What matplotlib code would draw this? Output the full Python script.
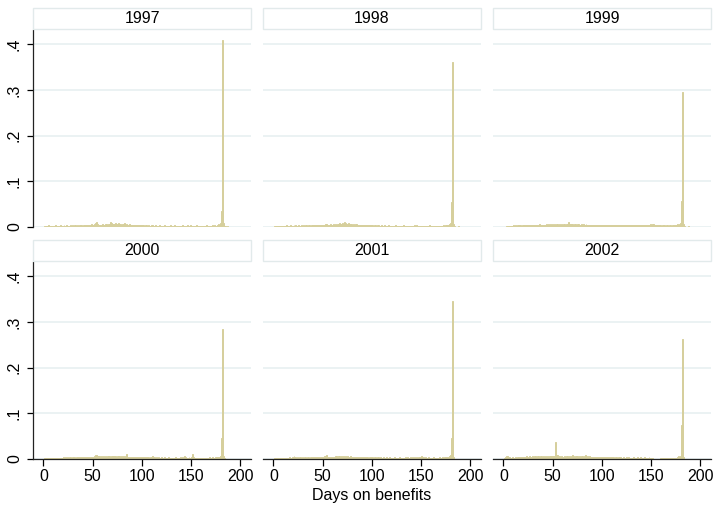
import numpy as np
import matplotlib
matplotlib.use("Agg")
import matplotlib.pyplot as plt
from matplotlib.patches import Rectangle

matplotlib.rcParams['font.family'] = ['Liberation Sans', 'DejaVu Sans']
matplotlib.rcParams['font.size'] = 11

# share of spells by days on benefits (in thousandths), days 1..190
years = ["1997", "1998", "1999", "2000", "2001", "2002"]
days = np.arange(1, 191)

y1997 = [2, 3, 3, 2, 4, 3, 3, 2, 3, 3,
         3, 4, 3, 3, 2, 3, 4, 3, 3, 3,
         4, 3, 3, 4, 3, 3, 3, 4, 3, 4,
         3, 4, 4, 3, 4, 3, 5, 4, 4, 3,
         4, 4, 5, 4, 4, 5, 4, 5, 6, 5,
         5, 6, 8, 10, 6, 5, 5, 4, 5, 6,
         5, 5, 6, 7, 5, 6, 7, 12, 8, 7,
         6, 7, 9, 6, 7, 8, 6, 6, 5, 6,
         6, 8, 5, 5, 6, 5, 5, 6, 4, 5,
         5, 4, 5, 4, 4, 5, 4, 4, 4, 5,
         4, 4, 3, 4, 4, 3, 4, 3, 3, 4,
         4, 3, 3, 4, 3, 3, 3, 4, 3, 3,
         3, 3, 4, 3, 3, 3, 3, 3, 4, 3,
         3, 3, 5, 3, 3, 3, 3, 3, 3, 3,
         4, 3, 3, 3, 3, 5, 3, 3, 3, 4,
         3, 3, 3, 3, 3, 4, 3, 3, 3, 3,
         3, 3, 3, 3, 3, 4, 3, 3, 3, 3,
         3, 4, 3, 4, 3, 3, 5, 6, 4, 8,
         35, 410, 8, 3, 2, 1, 2, 1, 1, 0]

y1998 = [2, 3, 2, 3, 3, 3, 2, 3, 3, 3,
         3, 3, 4, 3, 3, 3, 4, 3, 3, 3,
         4, 3, 5, 3, 3, 4, 3, 3, 4, 3,
         4, 3, 4, 4, 3, 4, 4, 3, 4, 4,
         4, 4, 5, 4, 4, 5, 4, 4, 5, 4,
         5, 4, 7, 6, 5, 5, 4, 6, 5, 5,
         6, 5, 7, 5, 6, 6, 8, 6, 7, 8,
         7, 10, 9, 6, 7, 8, 6, 6, 7, 5,
         6, 5, 6, 5, 6, 5, 5, 4, 5, 5,
         4, 4, 5, 4, 4, 4, 4, 4, 4, 4,
         4, 3, 4, 4, 3, 4, 4, 3, 3, 4,
         3, 3, 4, 3, 3, 3, 4, 3, 3, 3,
         3, 3, 3, 4, 3, 3, 3, 3, 3, 3,
         3, 4, 3, 3, 3, 3, 3, 3, 3, 3,
         3, 3, 4, 3, 5, 3, 3, 3, 3, 3,
         3, 3, 3, 3, 3, 3, 3, 3, 4, 3,
         3, 3, 3, 3, 3, 3, 3, 3, 3, 3,
         3, 3, 4, 3, 4, 4, 5, 4, 6, 8,
         55, 360, 6, 2, 1, 1, 1, 2, 1, 0]

y1999 = [0, 0, 2, 3, 3, 3, 2, 3, 3, 4,
         3, 4, 3, 4, 5, 4, 4, 3, 4, 4,
         5, 4, 4, 5, 4, 4, 5, 4, 4, 4,
         5, 4, 4, 5, 4, 4, 6, 5, 4, 5,
         5, 4, 5, 6, 5, 7, 5, 6, 5, 6,
         5, 6, 5, 6, 7, 5, 6, 5, 6, 5,
         6, 7, 5, 6, 7, 10, 7, 6, 6, 7,
         5, 6, 7, 5, 6, 6, 5, 5, 6, 5,
         6, 5, 5, 6, 4, 5, 5, 4, 5, 5,
         4, 5, 4, 5, 4, 4, 5, 4, 4, 5,
         4, 4, 4, 5, 4, 4, 4, 5, 4, 4,
         4, 4, 4, 4, 5, 4, 4, 4, 4, 4,
         4, 4, 4, 4, 4, 4, 4, 5, 4, 4,
         4, 4, 4, 4, 4, 4, 5, 4, 4, 4,
         4, 4, 5, 4, 4, 4, 4, 5, 5, 6,
         5, 7, 6, 4, 4, 5, 4, 4, 4, 4,
         3, 4, 4, 4, 3, 4, 4, 3, 4, 4,
         3, 4, 4, 4, 4, 5, 6, 4, 6, 9,
         57, 295, 6, 2, 1, 1, 0, 2, 0, 0]

y2000 = [2, 3, 2, 2, 3, 3, 2, 3, 3, 2,
         3, 3, 3, 2, 3, 3, 3, 3, 3, 4,
         3, 3, 4, 3, 4, 3, 4, 4, 3, 4,
         4, 4, 3, 4, 4, 5, 4, 4, 4, 4,
         4, 5, 4, 4, 5, 4, 5, 4, 5, 5,
         5, 6, 8, 9, 7, 6, 6, 5, 6, 5,
         6, 5, 6, 5, 6, 7, 6, 5, 6, 7,
         6, 7, 6, 5, 6, 7, 6, 5, 6, 5,
         6, 5, 7, 6, 10, 5, 5, 4, 5, 5,
         4, 5, 4, 5, 4, 4, 5, 4, 4, 4,
         4, 4, 5, 4, 4, 4, 4, 3, 4, 4,
         6, 4, 4, 3, 4, 3, 4, 3, 3, 4,
         3, 3, 4, 3, 3, 3, 4, 3, 3, 3,
         3, 3, 3, 4, 3, 3, 3, 3, 4, 3,
         4, 3, 7, 4, 3, 3, 3, 4, 3, 3,
         4, 12, 4, 3, 3, 3, 3, 3, 3, 3,
         3, 3, 3, 3, 3, 3, 3, 3, 4, 3,
         3, 4, 3, 3, 4, 4, 5, 4, 5, 7,
         47, 285, 6, 2, 1, 1, 1, 1, 0, 0]

y2001 = [2, 2, 3, 2, 3, 2, 3, 3, 2, 3,
         3, 3, 3, 2, 3, 4, 3, 3, 4, 5,
         6, 5, 4, 3, 4, 3, 4, 4, 3, 4,
         3, 4, 4, 3, 4, 4, 3, 4, 4, 4,
         4, 4, 5, 4, 4, 5, 4, 5, 5, 5,
         5, 6, 7, 8, 5, 5, 4, 5, 5, 4,
         5, 5, 6, 7, 5, 7, 6, 5, 6, 5,
         6, 5, 6, 5, 6, 5, 5, 6, 5, 5,
         4, 5, 4, 5, 4, 4, 5, 4, 4, 4,
         4, 4, 4, 5, 4, 4, 3, 4, 4, 4,
         4, 3, 4, 4, 3, 4, 4, 3, 4, 3,
         3, 4, 3, 3, 4, 3, 3, 4, 3, 3,
         3, 3, 4, 3, 3, 3, 3, 4, 3, 3,
         3, 3, 3, 4, 3, 4, 3, 3, 4, 3,
         4, 3, 4, 3, 4, 3, 4, 5, 4, 5,
         7, 5, 4, 3, 4, 3, 3, 4, 3, 3,
         3, 3, 4, 3, 3, 3, 3, 3, 4, 3,
         3, 4, 3, 4, 4, 5, 4, 5, 6, 8,
         47, 345, 5, 1, 1, 1, 1, 0, 0, 0]

y2002 = [3, 4, 6, 6, 5, 4, 3, 3, 4, 3,
         3, 4, 3, 4, 4, 5, 4, 4, 5, 4,
         5, 4, 5, 6, 5, 5, 6, 5, 5, 6,
         5, 6, 7, 5, 6, 6, 5, 6, 7, 5,
         6, 5, 6, 5, 6, 5, 6, 7, 6, 6,
         6, 7, 38, 9, 8, 7, 6, 5, 6, 5,
         5, 6, 5, 7, 6, 5, 6, 5, 7, 8,
         6, 5, 6, 7, 6, 5, 6, 5, 6, 7,
         5, 6, 8, 7, 5, 6, 5, 6, 5, 4,
         5, 4, 4, 5, 4, 4, 5, 4, 4, 4,
         4, 4, 4, 5, 4, 4, 4, 4, 4, 4,
         4, 4, 3, 4, 4, 3, 4, 4, 4, 3,
         3, 4, 3, 3, 4, 3, 4, 3, 3, 3,
         3, 4, 3, 3, 3, 4, 3, 3, 4, 3,
         3, 3, 4, 3, 3, 3, 3, 4, 3, 3,
         3, 2, 1, 0, 0, 0, 0, 0, 1, 2,
         2, 2, 2, 2, 2, 2, 2, 2, 2, 3,
         2, 3, 2, 3, 3, 3, 5, 7, 4, 6,
         75, 262, 4, 1, 0, 0, 0, 0, 0, 0]

series = [y1997, y1998, y1999, y2000, y2001, y2002]
yticks = [0, 0.1, 0.2, 0.3, 0.4]
ytick_labels = ["0", ".1", ".2", ".3", ".4"]
xticks = [0, 50, 100, 150, 200]

W, H = 716, 511
fig = plt.figure(figsize=(W / 100, H / 100), dpi=100)
fig.patch.set_facecolor("white")

bar_color = "#d6cf9c"
grid_color = "#e6eff0"
col_x = [33, 263, 493]
col_w = 218
row_top = [30, 262]
row_h = 197
strip_h = 21

for i, (yr, vals) in enumerate(zip(years, series)):
    r, c = divmod(i, 3)
    x0 = col_x[c]
    yt = row_top[r]
    ax = fig.add_axes([x0 / W, 1 - (yt + row_h) / H, col_w / W, row_h / H])
    ax.bar(days, np.array(vals) / 1000, width=1.0, color=bar_color,
           edgecolor=bar_color, linewidth=0.7, zorder=2)
    ax.set_xlim(-10.5, 211)
    ax.set_ylim(0, 0.431)
    ax.set_yticks(yticks)
    ax.grid(axis="y", color=grid_color, linewidth=1.1, zorder=0)
    ax.set_axisbelow(True)
    for s in ["top", "right"]:
        ax.spines[s].set_visible(False)
    ax.spines["left"].set_visible(c == 0)
    ax.spines["bottom"].set_visible(r == 1)
    for s in ["left", "bottom"]:
        ax.spines[s].set_linewidth(0.9)
        ax.spines[s].set_color("#222222")
    if c == 0:
        ax.set_yticklabels(ytick_labels, rotation=90, va="center")
        ax.tick_params(axis="y", length=4, width=0.9, pad=4, labelsize=11.5)
    else:
        ax.tick_params(axis="y", length=0, labelleft=False)
    ax.set_xticks(xticks)
    if r == 1:
        ax.tick_params(axis="x", length=5, width=0.9, pad=2, labelsize=11.5)
    else:
        ax.tick_params(axis="x", length=0, labelbottom=False)

    # strip title box
    sy = 1 - (yt - 1) / H
    fig.patches.append(Rectangle((x0 / W, sy), col_w / W, strip_h / H,
                                 transform=fig.transFigure, facecolor="white",
                                 edgecolor="#e2eaeb", linewidth=1.0))
    fig.text((x0 + col_w / 2) / W, sy + strip_h / 2 / H, yr,
             ha="center", va="center", fontsize=11.5)

fig.text(372 / W, 1 - 495 / H, "Days on benefits", ha="center", va="center",
         fontsize=11.5)

plt.savefig("out.png", dpi=100)
